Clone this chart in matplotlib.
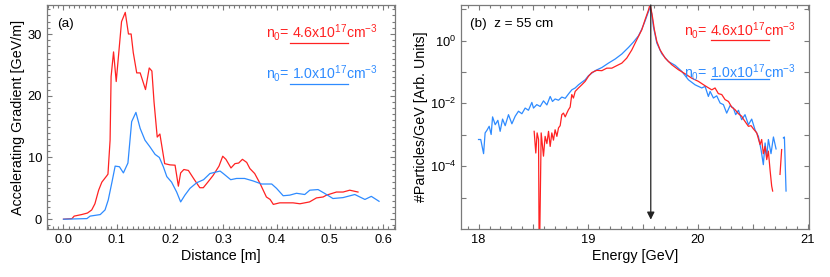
import numpy as np
import matplotlib
matplotlib.use('Agg')
import matplotlib.pyplot as plt
from matplotlib.ticker import MultipleLocator, FixedLocator, FuncFormatter, NullLocator

plt.rcParams['font.family'] = ['Liberation Sans', 'DejaVu Sans']
plt.rcParams['mathtext.fontset'] = 'custom'
plt.rcParams['mathtext.rm'] = 'Liberation Sans'
plt.rcParams['mathtext.it'] = 'Liberation Sans:italic'

RED = '#ff2222'
BLUE = '#2e8bff'
FRAME = '#7a7a7a'

# (a) accelerating gradient vs distance
dist_hi = [0.0, 0.016, 0.02, 0.034, 0.045, 0.053, 0.059, 0.066, 0.072, 0.081, 0.0835, 0.0875,
           0.0894, 0.094, 0.099, 0.109, 0.116, 0.122, 0.127, 0.131, 0.1375, 0.144, 0.154,
           0.161, 0.166, 0.17, 0.176, 0.181, 0.19, 0.2, 0.2095, 0.2157, 0.22, 0.226, 0.2345,
           0.245, 0.256, 0.2625, 0.271, 0.281, 0.292, 0.299, 0.305, 0.3145, 0.322, 0.329,
           0.336, 0.344, 0.35, 0.359, 0.369, 0.381, 0.388, 0.394, 0.406, 0.431, 0.444,
           0.462, 0.475, 0.4875, 0.494, 0.5125, 0.525, 0.5375, 0.553]
grad_hi = [0.0, 0.1, 0.5, 0.75, 1.0, 1.5, 2.5, 4.7, 6.0, 7.0, 7.3, 12.8,
           23.1, 27.1, 22.3, 32.0, 33.5, 30.0, 30.0, 27.0, 23.7, 23.7, 21.0,
           24.5, 24.0, 19.0, 13.3, 13.8, 9.0, 8.8, 8.75, 5.35, 7.5, 8.05, 7.9,
           6.5, 5.1, 5.1, 6.0, 7.1, 8.6, 10.2, 9.7, 8.3, 9.0, 9.1,
           9.7, 9.2, 8.2, 7.4, 5.8, 3.6, 3.2, 2.4, 2.65, 2.65, 2.5,
           2.8, 3.45, 3.6, 3.9, 4.4, 4.4, 4.7, 4.4]

dist_lo = [0.0, 0.044, 0.05, 0.069, 0.078, 0.084, 0.091, 0.097, 0.105, 0.1125, 0.121, 0.128,
           0.136, 0.144, 0.153, 0.1625, 0.172, 0.18, 0.1875, 0.194, 0.203, 0.2125, 0.22,
           0.228, 0.2375, 0.25, 0.263, 0.275, 0.294, 0.3, 0.314, 0.325, 0.34, 0.356, 0.372,
           0.391, 0.4, 0.4125, 0.425, 0.4375, 0.453, 0.4625, 0.478, 0.49, 0.506, 0.525,
           0.547, 0.566, 0.578, 0.5925]
grad_lo = [0.0, 0.1, 0.5, 0.75, 1.5, 3.1, 6.0, 8.6, 8.5, 7.5, 9.1, 15.8,
           17.3, 14.7, 12.8, 11.7, 10.5, 10.0, 8.5, 6.9, 6.0, 4.4, 2.8,
           3.9, 5.0, 5.9, 6.4, 7.4, 7.8, 7.4, 6.4, 6.6, 6.6, 6.2, 5.7,
           5.7, 5.0, 3.8, 3.9, 4.2, 4.0, 4.7, 4.8, 4.2, 3.35, 3.5,
           4.0, 3.2, 3.7, 2.9]

# (b) spectrum at z = 55 cm (log10 of particles/GeV)
energy_hi = [18.507, 18.522, 18.534, 18.547, 18.553, 18.555, 18.571, 18.592, 18.607, 18.623,
             18.638, 18.653, 18.668, 18.683, 18.698, 18.714, 18.729, 18.744, 18.759, 18.774,
             18.790, 18.805, 18.820, 18.835, 18.850, 18.865, 18.881, 18.911, 18.941, 18.972,
             19.002, 19.032, 19.078, 19.124, 19.169, 19.215, 19.260, 19.306, 19.351, 19.397,
             19.442, 19.488, 19.518, 19.549, 19.564, 19.585, 19.603, 19.625, 19.655, 19.701,
             19.761, 19.822, 19.883, 19.944, 20.004, 20.065, 20.126, 20.156, 20.186, 20.217,
             20.247, 20.278, 20.308, 20.338, 20.369, 20.399, 20.414, 20.460, 20.484, 20.505,
             20.536, 20.566, 20.581, 20.596, 20.612, 20.627, 20.642, 20.657, 20.672, 20.681,
             20.72, 20.748, 20.763]
log_hi = [-2.89, -3.58, -2.94, -3.15, -7.0, -7.0, -2.94, -3.68, -3.05, -3.28,
          -2.89, -3.37, -2.94, -3.17, -2.84, -3.05, -2.78, -2.71, -2.36, -2.31,
          -2.43, -2.31, -2.20, -2.12, -1.72, -1.83, -1.62, -1.51, -1.41, -1.30,
          -1.14, -1.02, -0.95, -0.96, -0.88, -0.88, -0.80, -0.72, -0.56, -0.30,
          0.02, 0.34, 0.66, 0.97, 1.16, 0.76, 0.34, -0.03, -0.30, -0.56,
          -0.77, -0.93, -1.06, -1.20, -1.30, -1.44, -1.57, -1.51, -1.69, -1.72,
          -1.88, -1.94, -2.12, -2.20, -2.33, -2.41, -2.50, -2.73, -2.71, -2.81,
          -2.94, -3.31, -3.15, -3.60, -3.37, -3.79, -3.52, -4.11, -4.63, -4.79,
          np.nan, -4.26, -3.47]

energy_lo = [18.00, 18.02, 18.046, 18.06, 18.076, 18.097, 18.115, 18.128, 18.152, 18.176,
             18.197, 18.219, 18.243, 18.273, 18.304, 18.334, 18.364, 18.395, 18.425, 18.455,
             18.486, 18.501, 18.531, 18.562, 18.592, 18.623, 18.653, 18.674, 18.698, 18.729,
             18.759, 18.790, 18.820, 18.850, 18.881, 18.911, 18.941, 18.972, 19.002, 19.032,
             19.063, 19.124, 19.184, 19.245, 19.306, 19.367, 19.412, 19.458, 19.488, 19.518,
             19.549, 19.564, 19.579, 19.594, 19.625, 19.670, 19.731, 19.792, 19.852, 19.913,
             19.974, 20.035, 20.065, 20.095, 20.111, 20.141, 20.171, 20.202, 20.232, 20.262,
             20.293, 20.323, 20.344, 20.369, 20.399, 20.429, 20.460, 20.490, 20.520, 20.551,
             20.575, 20.596, 20.612, 20.627, 20.642, 20.666, 20.688, 20.712, 20.75, 20.779,
             20.788, 20.803]
log_lo = [-3.15, -3.15, -3.60, -2.94, -2.86, -2.73, -2.99, -2.43, -2.68, -2.54,
          -2.89, -2.50, -2.71, -2.36, -2.65, -2.41, -2.25, -2.33, -2.15, -2.22,
          -1.97, -2.15, -2.04, -2.10, -1.92, -2.05, -1.78, -1.94, -1.86, -1.90,
          -1.80, -1.84, -1.70, -1.57, -1.51, -1.41, -1.33, -1.25, -1.12, -1.04,
          -0.96, -0.86, -0.72, -0.59, -0.43, -0.22, -0.05, 0.15, 0.36, 0.62,
          0.92, 1.06, 0.85, 0.44, -0.08, -0.42, -0.67, -0.79, -0.98, -1.25,
          -1.41, -1.51, -1.46, -1.78, -1.62, -1.83, -1.76, -1.99, -2.04, -2.31,
          -2.07, -2.15, -2.36, -2.22, -2.52, -2.36, -2.68, -2.50, -2.84, -3.05,
          -3.47, -3.95, -3.26, -3.68, -3.15, -3.60, -3.07, -3.45, np.nan, -3.10,
          -3.07, -4.79]

peak_energy = 19.57
legend_hi = r'n$_0$= 4.6x10$^{17}$cm$^{-3}$'
legend_lo = r'n$_0$= 1.0x10$^{17}$cm$^{-3}$'

fig = plt.figure(figsize=(8.3, 2.77), dpi=100)
ax1 = fig.add_axes([0.0566, 0.173, 0.419, 0.809])
ax2 = fig.add_axes([0.5554, 0.173, 0.419, 0.809])

for ax in (ax1, ax2):
    for s in ax.spines.values():
        s.set_color(FRAME)
        s.set_linewidth(0.9)
    ax.tick_params(which='both', direction='in', top=True, right=True, color=FRAME,
                   labelsize=9.3, width=0.8)
    ax.tick_params(which='major', length=3.8)
    ax.tick_params(which='minor', length=2.2)

# panel (a)
ax1.plot(dist_hi, grad_hi, color=RED, lw=0.9)
ax1.plot(dist_lo, grad_lo, color=BLUE, lw=0.9)
ax1.set_xlim(-0.031, 0.622)
ax1.set_ylim(-1.6, 34.7)
ax1.xaxis.set_major_locator(MultipleLocator(0.1))
ax1.xaxis.set_minor_locator(MultipleLocator(0.01))
ax1.yaxis.set_major_locator(MultipleLocator(10))
ax1.yaxis.set_minor_locator(MultipleLocator(1))
ax1.xaxis.set_major_formatter(FuncFormatter(lambda v, p: '%.1f' % v))
ax1.set_xlabel('Distance [m]', fontsize=10.3, labelpad=2)
ax1.set_ylabel('Accelerating Gradient [GeV/m]', fontsize=10.3, labelpad=2)
ax1.text(0.03, 0.915, '(a)', transform=ax1.transAxes, fontsize=9.7, va='center')
ax1.text(0.63, 0.875, legend_hi, transform=ax1.transAxes, color=RED, fontsize=10.2, va='center')
ax1.plot([0.698, 0.865], [0.829, 0.829], transform=ax1.transAxes, color=RED, lw=0.9)
ax1.text(0.63, 0.696, legend_lo, transform=ax1.transAxes, color=BLUE, fontsize=10.2, va='center')
ax1.plot([0.698, 0.865], [0.647, 0.647], transform=ax1.transAxes, color=BLUE, lw=0.9)

# panel (b)
ax2.plot(energy_lo, 10.0 ** np.array(log_lo), color=BLUE, lw=0.9)
ax2.plot(energy_hi, 10.0 ** np.array(log_hi), color=RED, lw=0.9)
ax2.set_yscale('log')
ax2.set_xlim(17.84, 21.01)
ax2.set_ylim(1e-6, 10 ** 1.13)
ax2.xaxis.set_major_locator(MultipleLocator(0.5))
ax2.xaxis.set_minor_locator(MultipleLocator(0.1))
ax2.xaxis.set_major_formatter(FuncFormatter(lambda v, p: '%d' % v if abs(v - round(v)) < 1e-6 else ''))
ax2.yaxis.set_major_locator(FixedLocator([10.0 ** k for k in range(-5, 2)]))
ax2.yaxis.set_minor_locator(NullLocator())
ax2.yaxis.set_major_formatter(FuncFormatter(
    lambda v, p: r'$10^{%d}$' % round(np.log10(v)) if round(np.log10(v)) % 2 == 0 else ''))
ax2.annotate('', xy=(peak_energy, 10 ** -5.7), xytext=(peak_energy, 10 ** 1.13),
             arrowprops=dict(arrowstyle='-|>', color='#222222', lw=0.9,
                             mutation_scale=11, shrinkA=0, shrinkB=0))
ax2.set_xlabel('Energy [GeV]', fontsize=10.3, labelpad=2)
ax2.set_ylabel('#Particles/GeV [Arb. Units]', fontsize=10.3, labelpad=1)
ax2.text(0.026, 0.915, '(b)  z = 55 cm', transform=ax2.transAxes, fontsize=9.7, va='center')
ax2.text(0.64, 0.888, legend_hi, transform=ax2.transAxes, color=RED, fontsize=10.2, va='center')
ax2.plot([0.72, 0.885], [0.844, 0.844], transform=ax2.transAxes, color=RED, lw=0.9)
ax2.text(0.64, 0.70, legend_lo, transform=ax2.transAxes, color=BLUE, fontsize=10.2, va='center')
ax2.plot([0.72, 0.885], [0.67, 0.67], transform=ax2.transAxes, color=BLUE, lw=0.9)

fig.savefig('out.png', dpi=100)
